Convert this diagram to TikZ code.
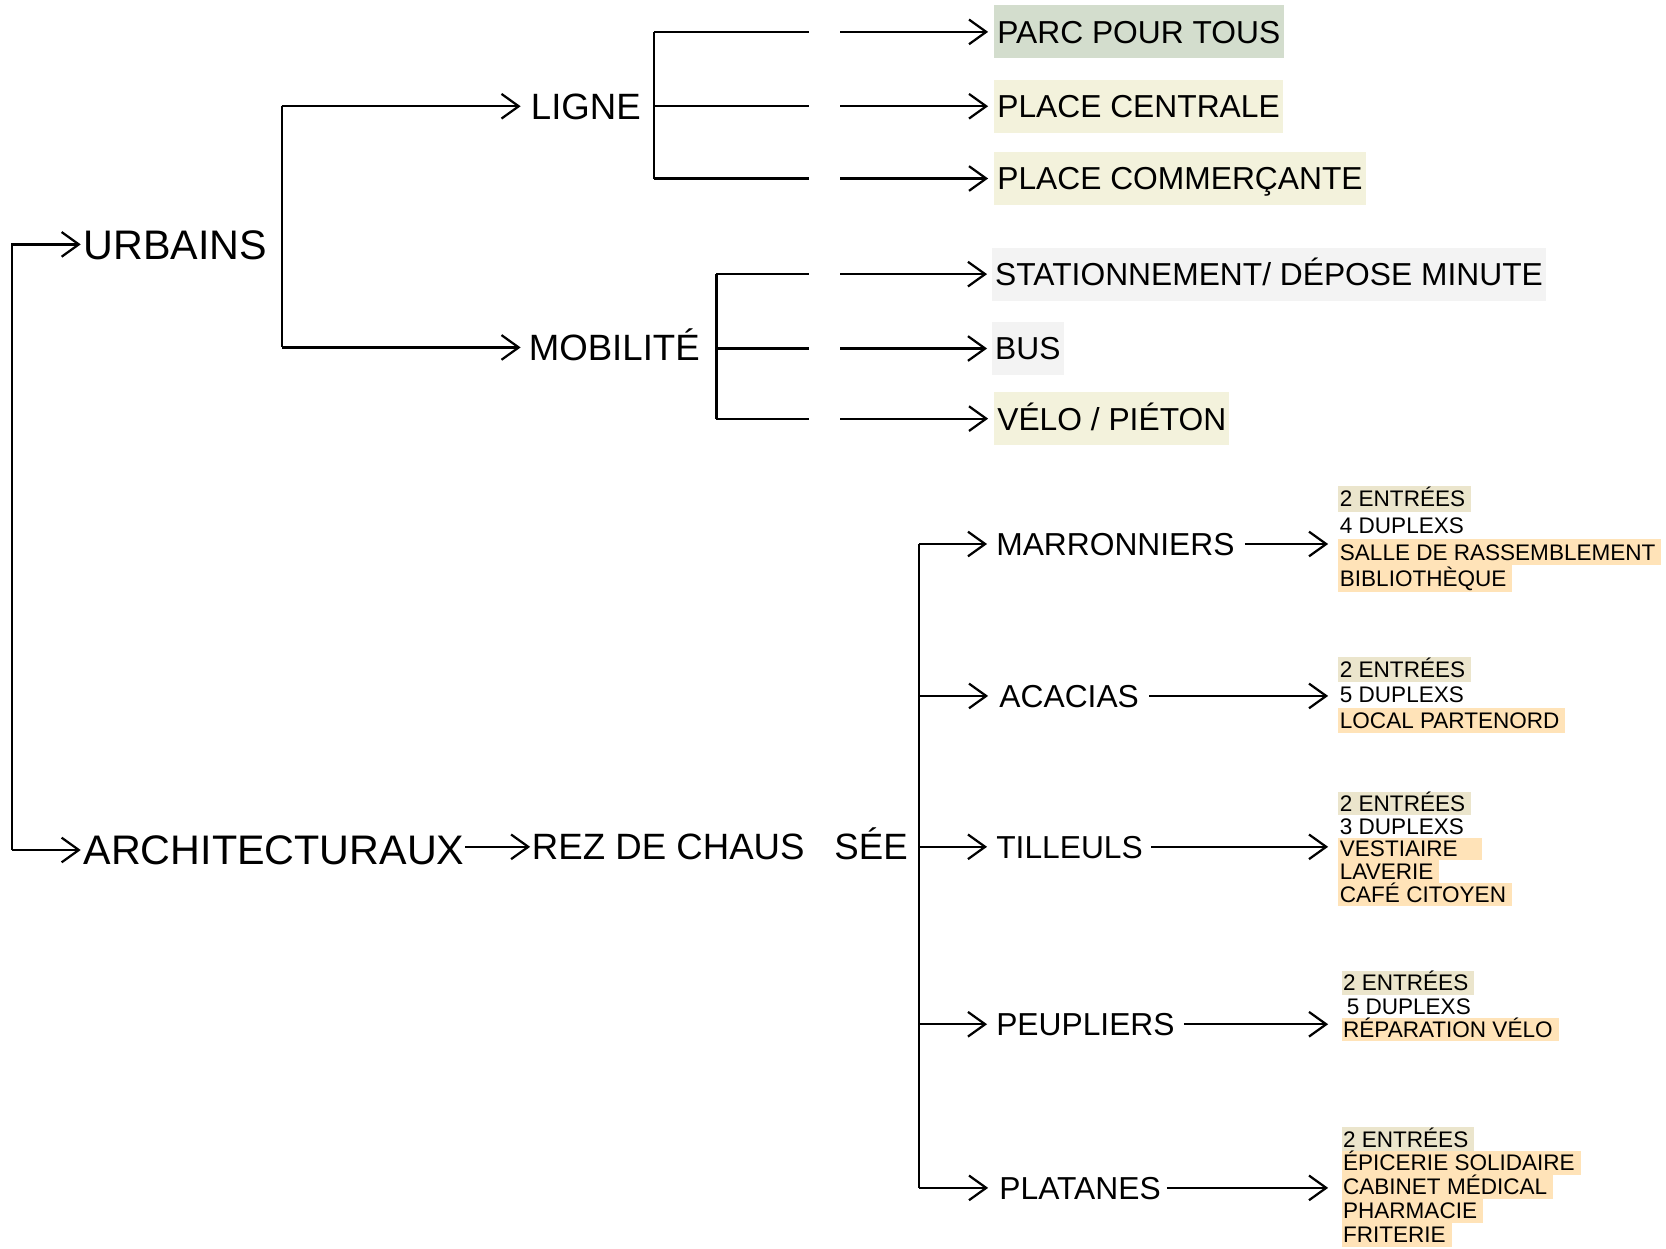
\documentclass[tikz,border=0pt]{standalone}
\usepackage{fontspec}
\setmainfont{Liberation Sans}
\usetikzlibrary{arrows.meta, calc}

\definecolor{parcGreen}{RGB}{211,221,205}
\definecolor{placeYellow}{RGB}{243,242,220}
\definecolor{mobGrey}{RGB}{243,243,243}
\definecolor{entreeBeige}{RGB}{235,229,204}
\definecolor{progOrange}{RGB}{255,227,184}

\newcommand{\hlbox}[2]{{\setlength{\fboxsep}{0pt}\colorbox{#1}{\rule[-\dimexpr(\baselineskip-4.3pt)/2\relax]{0pt}{\baselineskip}\hspace{0.4pt}\smash{#2}\hspace{1.6pt}}}}

\begin{document}
\begin{tikzpicture}[
  x=0.01cm, y=-0.01cm,
  link/.style={draw=black, line width=0.6pt},
  arr/.style={link, -{Straight Barb[length=4.6pt, width=6.6pt]}},
  big/.style={anchor=west, inner sep=0pt, text height=7.9pt, text depth=0pt, font=\fontsize{11.05}{13}\selectfont},
  mid/.style={anchor=west, inner sep=0pt, text height=7pt, text depth=0pt, font=\fontsize{9.8}{12}\selectfont},
  leaf/.style={anchor=west, inner xsep=0.03cm, inner ysep=0pt, minimum height=0.5cm,
    text height=6.1pt, text depth=0pt, font=\fontsize{8.5}{10}\selectfont},
  batiment/.style={leaf, inner xsep=0pt},
  detail/.style={anchor=west, inner sep=0pt, align=left, font=\fontsize{6.03}{#1}\selectfont}
]
\useasboundingbox (0,0) rectangle (1568,1175);

\node[big] (urbains) at (78,230) {URBAINS};
\node[big] (archi) at (78,800) {ARCHITECTURAUX};

\node[mid] (ligne) at (499,100) {LIGNE};
\node[mid] (mobil) at (497,327) {MOBILITÉ};
\node[mid] (rdc) at (500,797) {REZ DE CHAUS};
\node[mid, anchor=east] (rdcB) at (855,797) {SÉE};

\node[leaf, fill=parcGreen] (parc) at (935,30) {PARC POUR TOUS\hspace{2pt}};
\node[leaf, fill=placeYellow] (placeC) at (935,100) {PLACE CENTRALE\hspace{2pt}};
\node[leaf, fill=placeYellow] (placeCom) at (935,168) {PLACE COMMERÇANTE\hspace{1pt}};
\node[leaf, fill=mobGrey] (station) at (933,258) {STATIONNEMENT/ DÉPOSE MINUTE\hspace{3pt}};
\node[leaf, fill=mobGrey] (bus) at (933,328) {BUS\hspace{2pt}};
\node[leaf, fill=placeYellow] (velo) at (935,394) {VÉLO / PIÉTON\hspace{4pt}};

\node[batiment] (marr) at (937,512) {MARRONNIERS};
\node[batiment] (aca) at (940,655) {ACACIAS};
\node[batiment] (till) at (937,797) {TILLEULS};
\node[batiment] (peup) at (937,964) {PEUPLIERS};
\node[batiment] (plat) at (940,1118) {PLATANES};

\node[detail=7.11pt] (marrD) at (1259,507) {%
  \hlbox{entreeBeige}{2 ENTRÉES}\\
  \hlbox{white}{4 DUPLEXS}\\
  \hlbox{progOrange}{SALLE DE RASSEMBLEMENT}\\
  \hlbox{progOrange}{BIBLIOTHÈQUE}};
\node[detail=6.83pt] (acaD) at (1259,654) {%
  \hlbox{entreeBeige}{2 ENTRÉES}\\
  \hlbox{white}{5 DUPLEXS}\\
  \hlbox{progOrange}{LOCAL PARTENORD}};
\node[detail=6.12pt] (tillD) at (1259,799) {%
  \hlbox{entreeBeige}{2 ENTRÉES}\\
  \hlbox{white}{3 DUPLEXS}\\
  \hlbox{progOrange}{VESTIAIRE\hspace{5pt}}\\
  \hlbox{progOrange}{LAVERIE}\\
  \hlbox{progOrange}{CAFÉ CITOYEN}};
\node[detail=6.26pt] (peupD) at (1262,947) {%
  \hlbox{entreeBeige}{2 ENTRÉES}\\
  \hlbox{white}{\hspace{1pt}5 DUPLEXS}\\
  \hlbox{progOrange}{RÉPARATION VÉLO}};
\node[detail=6.4pt] (platD) at (1262,1117) {%
  \hlbox{entreeBeige}{2 ENTRÉES}\\
  \hlbox{progOrange}{ÉPICERIE SOLIDAIRE}\\
  \hlbox{progOrange}{CABINET MÉDICAL}\\
  \hlbox{progOrange}{PHARMACIE}\\
  \hlbox{progOrange}{FRITERIE}};

\coordinate (root) at (11,800);
\coordinate (brU) at ([xshift=0.13cm]urbains.east);
\coordinate (brL) at ([xshift=0.12cm]ligne.east);
\coordinate (brM) at ([xshift=0.15cm]mobil.east);
\coordinate (brR) at ([xshift=0.1cm]rdcB.east);

\draw[arr, shorten >=0.02cm] (root) |- (urbains.west);
\draw[arr, shorten >=0.02cm] (root) -- (archi.west);

\draw[link] (brU |- ligne.west) -- (brU |- mobil.west);
\draw[arr, shorten >=0.09cm] (brU |- ligne.west) -- (ligne.west);
\draw[arr, shorten >=0.07cm] (brU |- mobil.west) -- (mobil.west);

\draw[link] (brL |- parc.west) -- (brL |- placeCom.west);
\draw[arr, shorten >=0.05cm] (brL |- parc.west) -- (parc.west);
\draw[arr, shorten >=0.05cm] (brL |- placeC.west) -- (placeC.west);
\draw[arr, shorten >=0.05cm] (brL |- placeCom.west) -- (placeCom.west);

\draw[link] (brM |- station.west) -- (brM |- velo.west);
\draw[arr, shorten >=0.04cm] (brM |- station.west) -- (station.west);
\draw[arr, shorten >=0.04cm] (brM |- bus.west) -- (bus.west);
\draw[arr, shorten >=0.05cm] (brM |- velo.west) -- (velo.west);

\fill[white] (761,0) rectangle (791,430);

\draw[arr, shorten >=0.01cm] (archi.east |- rdc.west) -- (rdc.west);

\draw[link] (brR |- marr.west) -- (brR |- plat.west);
\draw[arr, shorten >=0.08cm] (brR |- marr.west) -- (marr.west);
\draw[arr, shorten >=0.1cm] (brR |- aca.west) -- (aca.west);
\draw[arr, shorten >=0.08cm] (brR |- till.west) -- (till.west);
\draw[arr, shorten >=0.08cm] (brR |- peup.west) -- (peup.west);
\draw[arr, shorten >=0.1cm] (brR |- plat.west) -- (plat.west);

\draw[arr, shorten <=0.09cm, shorten >=0.09cm] (marr.east) -- (marr.east -| marrD.west);
\draw[arr, shorten <=0.09cm, shorten >=0.09cm] (aca.east) -- (aca.east -| acaD.west);
\draw[arr, shorten <=0.07cm, shorten >=0.09cm] (till.east) -- (till.east -| tillD.west);
\draw[arr, shorten <=0.08cm, shorten >=0.12cm] (peup.east) -- (peup.east -| peupD.west);
\draw[arr, shorten <=0.05cm, shorten >=0.12cm] (plat.east) -- (plat.east -| platD.west);
\end{tikzpicture}
\end{document}
